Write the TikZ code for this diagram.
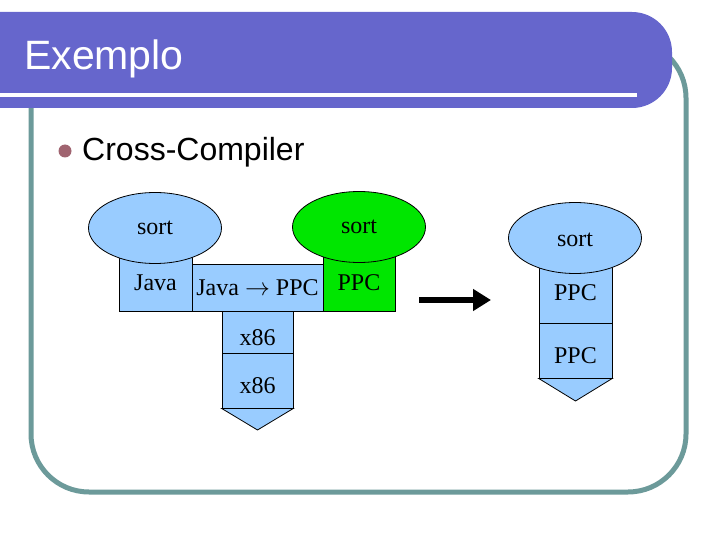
\documentclass[tikz,border=0pt]{standalone}
\usepackage{fontspec}
\setmainfont{Liberation Serif}
\newfontfamily\sansf{Liberation Sans}
\usetikzlibrary{shapes.geometric,arrows.meta}
\definecolor{barcol}{RGB}{102,102,204}
\definecolor{framecol}{RGB}{108,154,154}
\definecolor{lblue}{RGB}{153,204,255}
\definecolor{lgreen}{RGB}{0,230,0}
\definecolor{bulletcol}{RGB}{160,100,112}
\begin{document}
\begin{tikzpicture}[x=1pt,y=-1pt,
  box/.style={draw=black, line width=0.8pt, fill=lblue, inner sep=0pt,
    font=\fontsize{24}{28}\selectfont},
  low/.style={text height=#1, text depth=0pt},
  ell/.style={ellipse, draw=black, line width=0.8pt, fill=lblue, inner sep=0pt,
    minimum width=133pt, minimum height=71pt, font=\fontsize{24}{28}\selectfont},
  tip/.style={draw=black, line width=0.8pt, fill=lblue},
]
\useasboundingbox (0,0) rectangle (720,540);
% frame
\draw[framecol, line width=5pt, rounded corners=58pt] (31,40) rectangle (686,492);
% title bar
\fill[barcol, rounded corners=40pt] (-60,12) rectangle (672,108);
\draw[white, line width=4pt] (0,95) -- (637,95);
\node[anchor=base west, text=white, font=\sansf\fontsize{41}{46}\selectfont, inner sep=0pt]
  (title) at (24,70) {Exemplo};
% bullet
\node[circle, fill=bulletcol, minimum size=13pt, inner sep=0pt] (bul) at (65,151) {};
\node[anchor=base west, font=\sansf\fontsize{32}{38}\selectfont, inner sep=0pt]
  (cc) at (82,161) {Cross-Compiler};

% left T-diagram
\node[box, minimum width=73pt, minimum height=56pt] (java) at (155.5,283) {Java};
\node[box, minimum width=131pt, minimum height=47pt] (jp) at (257.5,287.5) {Java $\rightarrow$ PPC};
\node[box, fill=lgreen, minimum width=72pt, minimum height=56pt] (ppcg) at (359,283) {PPC};
\node[box, low=26pt, minimum width=71pt, minimum height=42pt] (xa) at (257.5,332) {x86};
\node[box, low=26pt, minimum width=71pt, minimum height=55pt] (xb) at (257.5,380.5) {x86};
\draw[tip] (xb.south west) -- (257.5,430) -- (xb.south east) -- cycle;
\node[ell] (sortl) at (155,228) {sort};
\node[ell, fill=lgreen] (sortg) at (359,227) {sort};

% arrow
\coordinate (a1) at (419,300);
\coordinate (a2) at (491,300);
\draw[line width=6pt, -{Triangle[length=18pt,width=21pt]}] (a1) -- (a2);

% right stack
\node[box, minimum width=73pt, minimum height=60pt] (ppc1) at (575.5,293) {PPC};
\node[box, low=26pt, minimum width=73pt, minimum height=55pt] (ppc2) at (575.5,350.5) {PPC};
\draw[tip] (ppc2.south west) -- (575.5,401) -- (ppc2.south east) -- cycle;
\node[ell, low=18pt] (sortr) at (575,238) {sort};
\end{tikzpicture}
\end{document}
